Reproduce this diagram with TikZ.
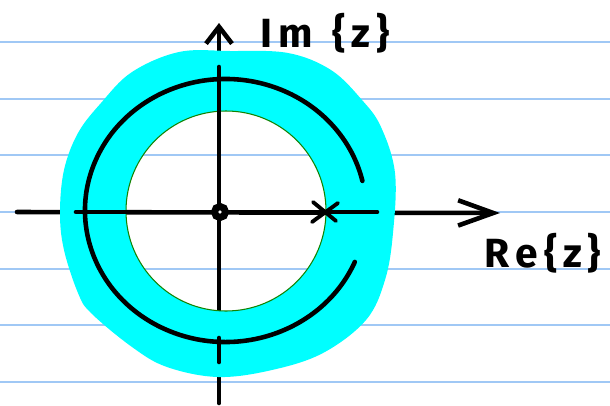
\documentclass[tikz,border=0pt]{standalone}
\usepackage{fontspec}
\newfontfamily\handfont[LetterSpace=14]{Fira Sans}
\usetikzlibrary{arrows.meta}

\definecolor{ruleblue}{RGB}{160,200,245}
\definecolor{ringcyan}{RGB}{0,255,255}
\definecolor{edgegreen}{RGB}{20,130,0}

\begin{document}
\begin{tikzpicture}[
		x=0.05cm, y=-0.05cm,
		pen/.style={line width=6.5pt, line cap=round},
		ruling/.style={line width=2.5pt, draw=ruleblue},
		axislabel/.style={
				inner sep=0pt,
				font=\handfont\bfseries\fontsize{58}{62}\selectfont
			}
	]

	\fill[white] (0,0) rectangle (610,405);
	\useasboundingbox (0,0) rectangle (610,405);

	% ruled paper
	\foreach \ly in {42,99,155,212,269,325,382}
		\draw[ruling] (0,\ly) -- (610,\ly);

	% axes
	\draw[pen, -{Straight Barb[length=24pt, width=37pt]}]
		(219,403) -- (219,23);
	\draw[pen, -{Straight Barb[length=50pt, width=36pt]}]
		(17,212) -- (500,213);

	% highlighted ring
	\fill[ringcyan, even odd rule]
		plot[smooth cycle, tension=0.6] coordinates {
				(179,52) (230,51) (288,53) (331,70) (362,100) (381,127)
				(395,173) (393,233) (385,280) (366,320) (323,353)
				(272,370) (218,377) (167,367) (132,347) (91,313)
				(78,293) (64,250) (60,213) (64,170) (78,133) (101,103)
				(132,72)
			}
		(226,211) circle[radius=100];
	\draw[edgegreen, line width=1.5pt] (226,211) circle[radius=100];

	% axes again inside the ring
	\draw[pen] (76,212) -- (377,212);
	\draw[pen] (219,67) -- (219,308);
	\draw[pen] (219,338) -- (219,362);

	% unit circle, open on the right
	\draw[pen] (225.5,210.5) ++(23:140.5 and 131.5)
		arc[start angle=23, end angle=347, x radius=140.5, y radius=131.5];

	% zero and pole
	\draw[line width=10pt, fill=white] (220,212) circle[radius=5.5];
	\draw[pen, line width=5.5pt] (313,202) -- (336,221) (312,222) -- (338,203);

	\node[axislabel] (imlabel) at (325,33) {Im\enspace\{z\}};
	\node[axislabel] (relabel) at (543,253) {Re\,\{z\}};

\end{tikzpicture}
\end{document}
